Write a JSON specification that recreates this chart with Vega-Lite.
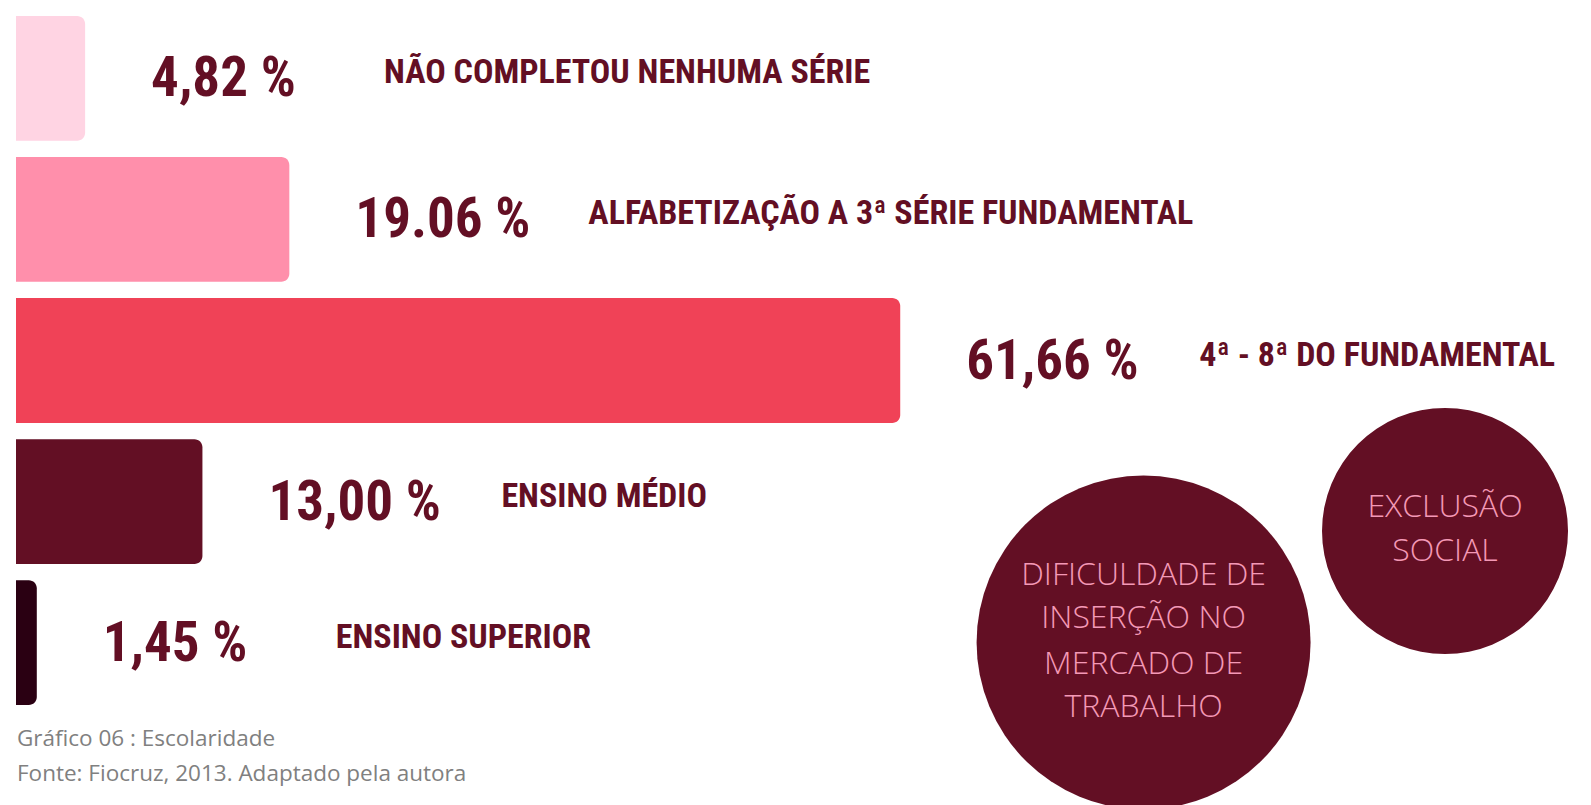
{
  "$schema": "https://vega.github.io/schema/vega-lite/v6.json",
  "width": 1591,
  "height": 805,
  "autosize": {"type": "none"},
  "padding": 0,
  "background": "#ffffff",
  "config": {"view": {"stroke": null}},
  "datasets": {
    "bars": [
      {"cat": "NÃO COMPLETOU NENHUMA SÉRIE", "value": 4.82, "pct": "4,82 %"},
      {"cat": "ALFABETIZAÇÃO A 3ª SÉRIE FUNDAMENTAL", "value": 19.06, "pct": "19.06 %"},
      {"cat": "4ª - 8ª DO FUNDAMENTAL", "value": 61.66, "pct": "61,66 %"},
      {"cat": "ENSINO MÉDIO", "value": 13.0, "pct": "13,00 %"},
      {"cat": "ENSINO SUPERIOR", "value": 1.45, "pct": "1,45 %"}
    ],
    "circles": [
      {"name": "big", "cx": 78.63, "cy": 4.0},
      {"name": "small", "cx": 99.65, "cy": 3.21}
    ],
    "circleText": [
      {"t": "DIFICULDADE DE", "cx": 78.63, "cy": 3.52},
      {"t": "INSERÇÃO NO", "cx": 78.63, "cy": 3.83},
      {"t": "MERCADO DE", "cx": 78.63, "cy": 4.15},
      {"t": "TRABALHO", "cx": 78.63, "cy": 4.46},
      {"t": "EXCLUSÃO", "cx": 99.65, "cy": 3.04},
      {"t": "SOCIAL", "cx": 99.65, "cy": 3.35}
    ],
    "captions": [
      {"t": "Gráfico 06 : Escolaridade", "cx": 0.07, "cy": 4.685},
      {"t": "Fonte: Fiocruz, 2013. Adaptado pela autora", "cx": 0.07, "cy": 4.933}
    ]
  },
  "resolve": {"scale": {"y": "independent"}},
  "layer": [
    {
      "data": {"name": "bars"},
      "encoding": {
        "y": {
          "field": "cat", "type": "nominal", "sort": null, "axis": null,
          "scale": {"range": [16, 705], "paddingInner": 0.115, "paddingOuter": 0}
        }
      },
      "layer": [
        {
          "mark": {"type": "bar", "cornerRadiusTopRight": 8, "cornerRadiusBottomRight": 8},
          "encoding": {
            "x": {"field": "value", "type": "quantitative", "axis": null,
                  "scale": {"domain": [-1.116, 109.83], "nice": false, "zero": false}},
            "x2": {"datum": 0},
            "color": {
              "field": "cat", "type": "nominal", "legend": null,
              "scale": {
                "domain": ["NÃO COMPLETOU NENHUMA SÉRIE", "ALFABETIZAÇÃO A 3ª SÉRIE FUNDAMENTAL", "4ª - 8ª DO FUNDAMENTAL", "ENSINO MÉDIO", "ENSINO SUPERIOR"],
                "range": ["#FFD4E3", "#FF8FAB", "#F04257", "#630F24", "#2A0012"]
              }
            }
          }
        },
        {
          "mark": {"type": "text", "align": "left", "baseline": "middle", "dx": 66, "dy": 1,
                   "font": "Roboto Condensed, DejaVu Sans Condensed, sans-serif", "fontWeight": "bold", "fontSize": 55, "color": "#630F24"},
          "encoding": {
            "x": {"field": "value", "type": "quantitative"},
            "text": {"field": "pct"}
          }
        },
        {
          "mark": {"type": "text", "align": "left", "baseline": "middle", "dx": 299, "dy": -5,
                   "font": "Roboto Condensed, DejaVu Sans Condensed, sans-serif", "fontWeight": "bold", "fontSize": 34, "color": "#630F24"},
          "encoding": {
            "x": {"field": "value", "type": "quantitative"},
            "text": {"field": "cat"}
          }
        }
      ]
    },
    {
      "encoding": {
        "y": {"field": "cy", "type": "quantitative", "axis": null,
              "scale": {"domain": [5.153, -0.556], "nice": false, "zero": false}},
        "x": {"field": "cx", "type": "quantitative"}
      },
      "layer": [
        {
          "data": {"name": "circles"},
          "transform": [{"filter": "datum.name == 'big'"}],
          "mark": {"type": "point", "shape": "circle", "filled": true, "opacity": 1, "color": "#630F24", "size": 111556}
        },
        {
          "data": {"name": "circles"},
          "transform": [{"filter": "datum.name == 'small'"}],
          "mark": {"type": "point", "shape": "circle", "filled": true, "opacity": 1, "color": "#630F24", "size": 60516}
        },
        {
          "data": {"name": "circleText"},
          "mark": {"type": "text", "align": "center", "baseline": "middle",
                   "font": "Open Sans", "fontWeight": 300, "fontSize": 32, "color": "#F499B6"},
          "encoding": {"text": {"field": "t"}}
        },
        {
          "data": {"name": "captions"},
          "mark": {"type": "text", "align": "left", "baseline": "middle",
                   "font": "Open Sans", "fontSize": 22.5, "color": "#808080"},
          "encoding": {"text": {"field": "t"}}
        }
      ]
    }
  ]
}
